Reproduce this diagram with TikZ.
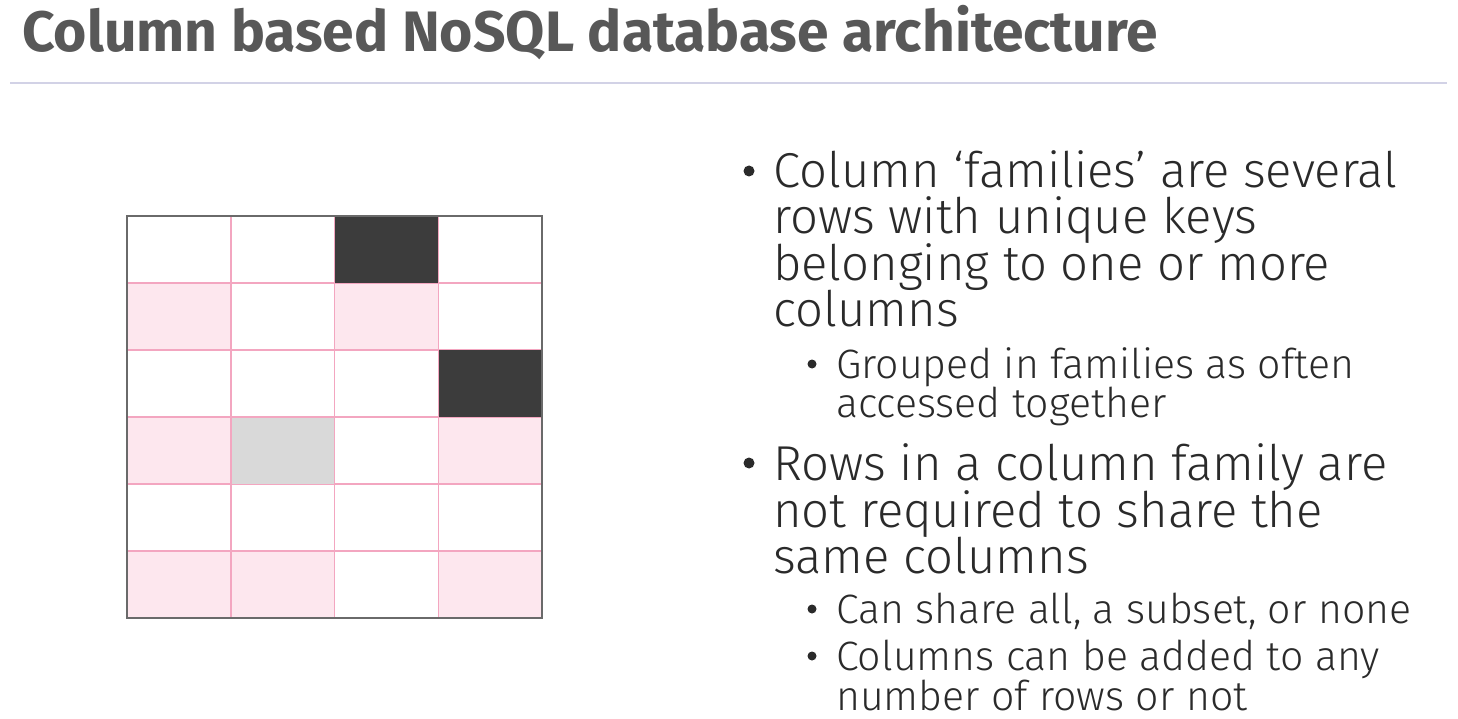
\documentclass[tikz,border=0pt]{standalone}
\usepackage{fontspec, xcolor}
\setmainfont{Fira Sans}
\newfontfamily\lightfont{Fira Sans Light}
\usepackage{tikz}

\definecolor{titlegray}{HTML}{585858}
\definecolor{textgray}{HTML}{2A2A2A}
\definecolor{rulecol}{HTML}{D2D2E6}
\definecolor{cellpink}{HTML}{FDE7EE}
\definecolor{linepink}{HTML}{F3A6C0}
\definecolor{celldark}{HTML}{3C3C3C}
\definecolor{celllight}{HTML}{D9D9D9}
\definecolor{framegray}{HTML}{6A6A6A}

\newcommand{\titlesize}{\fontsize{57}{60}\selectfont}
\newcommand{\mainsize}{\lightfont\fontsize{49}{46}\selectfont}
\newcommand{\subsize}{\lightfont\fontsize{41}{39}\selectfont}

\tikzset{
  dot/.style={circle, fill=textgray, minimum size=#1, inner sep=0pt},
}

\begin{document}
\begin{tikzpicture}[x=1pt, y=1pt, yscale=-1, every node/.style={inner sep=0pt, text=textgray}]
\useasboundingbox (0, 0) rectangle (1458, 719);
%Title
\draw (22, 52) node (title) [anchor=base west, font=\titlesize\bfseries, text=titlegray] {Column based NoSQL database architecture};
\draw [rulecol, line width=1.5pt] (10, 83) -- (1447, 83);
%Grid
\foreach \c/\r in {0/1, 2/1, 0/3, 3/3, 0/5, 1/5, 3/5}
  \fill [cellpink] (127+\c*103.75, 216+\r*67) rectangle ++(103.75, 67);
\foreach \i in {1, 2, 3}
  \draw [linepink, line width=1.5pt] (127+\i*103.75, 216) -- (127+\i*103.75, 618);
\foreach \j in {1, 2, 3, 4, 5}
  \draw [linepink, line width=1.5pt] (127, 216+\j*67) -- (542, 216+\j*67);
\fill [celldark] (335, 216) rectangle (438, 283);
\fill [celldark] (439, 350) rectangle (542, 417);
\fill [celllight] (232, 418) rectangle (334, 484);
\draw [framegray, line width=2pt] (127, 216) rectangle (542, 618);
%Text
\node (b1) [dot=11pt] at (749, 171) {};
\draw (773, 188) node (l1) [anchor=base west, font=\mainsize] {Column ‘families’ are several};
\draw (773, 234) node (l2) [anchor=base west, font=\mainsize] {rows with unique keys};
\draw (773, 280) node (l3) [anchor=base west, font=\mainsize] {belonging to one or more};
\draw (773, 326) node (l4) [anchor=base west, font=\mainsize] {columns};
\node (b2) [dot=9pt] at (812, 364) {};
\draw (836, 378) node (l5) [anchor=base west, font=\subsize] {Grouped in families as often};
\draw (836, 417) node (l6) [anchor=base west, font=\subsize] {accessed together};
\node (b3) [dot=11pt] at (749, 463) {};
\draw (773, 480) node (l7) [anchor=base west, font=\mainsize] {Rows in a column family are};
\draw (773, 527) node (l8) [anchor=base west, font=\mainsize] {not required to share the};
\draw (773, 573) node (l9) [anchor=base west, font=\mainsize] {same columns};
\node (b4) [dot=9pt] at (812, 609) {};
\draw (836, 623) node (l10) [anchor=base west, font=\subsize] {Can share all, a subset, or none};
\node (b5) [dot=9pt] at (812, 656) {};
\draw (836, 670) node (l11) [anchor=base west, font=\subsize] {Columns can be added to any};
\draw (836, 710) node (l12) [anchor=base west, font=\subsize] {number of rows or not};
\end{tikzpicture}
\end{document}
